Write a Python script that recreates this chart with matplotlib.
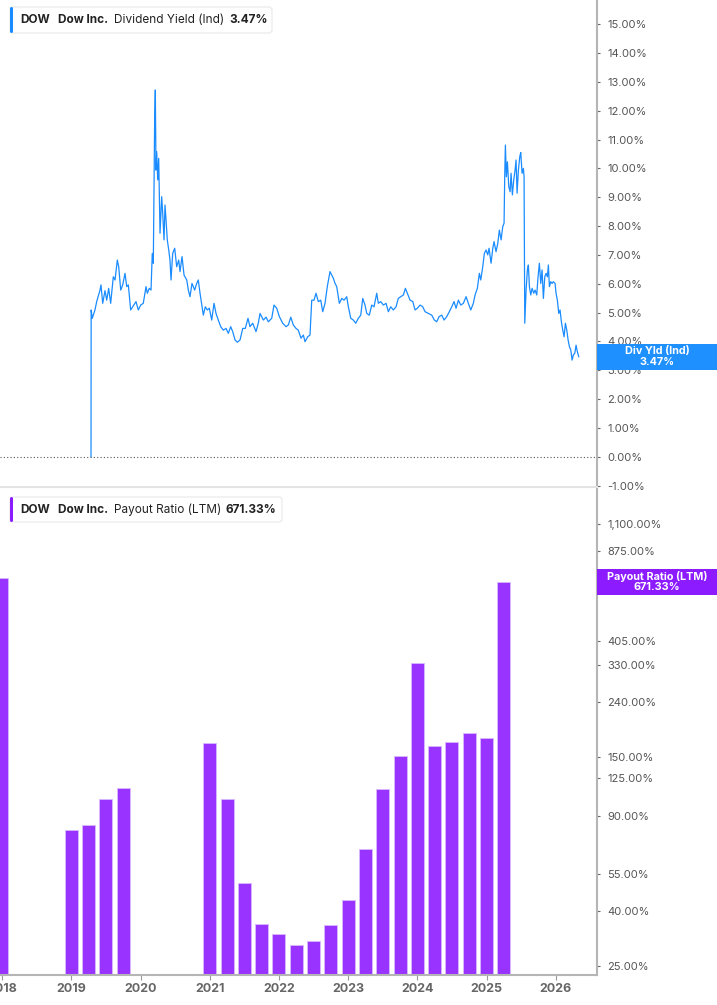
import matplotlib
matplotlib.use("Agg")
import matplotlib.pyplot as plt
from matplotlib.patches import FancyBboxPatch, Rectangle
from matplotlib.lines import Line2D
from matplotlib.transforms import Affine2D
from matplotlib.ticker import FixedLocator, FixedFormatter, NullLocator

plt.rcParams['font.family'] = ['Inter', 'DejaVu Sans']

# dividend yield (Ind), %
yield_years = [
    2019.285, 2019.287, 2019.303, 2019.342, 2019.367, 2019.415, 2019.429, 2019.454,
    2019.487, 2019.512, 2019.540, 2019.569, 2019.607, 2019.632, 2019.665, 2019.685,
    2019.714, 2019.743, 2019.776, 2019.801, 2019.824, 2019.858, 2019.887, 2019.935,
    2019.968, 2020.003, 2020.040, 2020.080, 2020.098, 2020.127, 2020.152, 2020.170,
    2020.185, 2020.195, 2020.205, 2020.214, 2020.224, 2020.234, 2020.249, 2020.263,
    2020.282, 2020.306, 2020.321, 2020.340, 2020.354, 2020.369, 2020.387, 2020.408,
    2020.426, 2020.441, 2020.465, 2020.494, 2020.523, 2020.552, 2020.571, 2020.600,
    2020.629, 2020.668, 2020.691, 2020.715, 2020.744, 2020.783, 2020.812, 2020.835,
    2020.860, 2020.889, 2020.908, 2020.936, 2020.965, 2020.994, 2021.029, 2021.062,
    2021.091, 2021.124, 2021.159, 2021.197, 2021.236, 2021.269, 2021.303, 2021.332,
    2021.366, 2021.399, 2021.438, 2021.477, 2021.514, 2021.553, 2021.582, 2021.621,
    2021.669, 2021.702, 2021.727, 2021.775, 2021.814, 2021.847, 2021.896, 2021.929,
    2021.968, 2022.006, 2022.055, 2022.103, 2022.136, 2022.171, 2022.208, 2022.247,
    2022.280, 2022.319, 2022.353, 2022.377, 2022.416, 2022.449, 2022.474, 2022.507,
    2022.536, 2022.569, 2022.604, 2022.633, 2022.666, 2022.699, 2022.738, 2022.763,
    2022.786, 2022.811, 2022.835, 2022.873, 2022.908, 2022.941, 2022.980, 2023.003,
    2023.038, 2023.075, 2023.110, 2023.147, 2023.182, 2023.211, 2023.244, 2023.269,
    2023.306, 2023.341, 2023.374, 2023.413, 2023.436, 2023.471, 2023.509, 2023.548,
    2023.581, 2023.616, 2023.653, 2023.692, 2023.725, 2023.760, 2023.798, 2023.827,
    2023.855, 2023.895, 2023.934, 2023.967, 2024.000, 2024.039, 2024.078, 2024.111,
    2024.159, 2024.208, 2024.246, 2024.280, 2024.314, 2024.353, 2024.386, 2024.425,
    2024.462, 2024.497, 2024.530, 2024.559, 2024.593, 2024.627, 2024.665, 2024.704,
    2024.737, 2024.772, 2024.809, 2024.834, 2024.867, 2024.896, 2024.916, 2024.945,
    2024.968, 2024.993, 2025.017, 2025.036, 2025.065, 2025.090, 2025.108, 2025.137,
    2025.162, 2025.185, 2025.210, 2025.234, 2025.253, 2025.263, 2025.272, 2025.286,
    2025.301, 2025.321, 2025.340, 2025.354, 2025.373, 2025.393, 2025.412, 2025.426,
    2025.441, 2025.460, 2025.480, 2025.494, 2025.513, 2025.532, 2025.542, 2025.552,
    2025.571, 2025.590, 2025.604, 2025.619, 2025.639, 2025.658, 2025.682, 2025.701,
    2025.725, 2025.744, 2025.763, 2025.783, 2025.802, 2025.821, 2025.841, 2025.860,
    2025.879, 2025.893, 2025.908, 2025.928, 2025.947, 2025.965, 2025.990, 2026.004,
    2026.023, 2026.043, 2026.062, 2026.081, 2026.101, 2026.120, 2026.139, 2026.159,
    2026.178, 2026.197, 2026.217, 2026.236, 2026.254, 2026.275, 2026.293, 2026.312,
    2026.332,
]
yield_values = [
    0.00, 5.09, 4.80, 5.09, 5.38, 5.78, 5.96, 5.32,
    5.76, 5.43, 5.84, 5.32, 6.24, 6.13, 6.82, 6.59,
    5.78, 5.96, 6.36, 5.90, 5.96, 5.09, 5.20, 5.38,
    5.09, 5.26, 5.32, 5.90, 5.67, 5.84, 5.78, 7.05,
    6.71, 9.14, 11.79, 12.72, 9.94, 10.58, 9.60, 10.35,
    7.75, 9.02, 8.44, 7.52, 8.73, 8.21, 7.52, 7.17,
    6.82, 6.13, 7.05, 7.23, 6.59, 6.82, 6.42, 6.94,
    6.30, 6.13, 5.78, 5.55, 6.01, 5.78, 6.01, 6.13,
    5.67, 5.20, 4.91, 5.20, 5.09, 5.15, 4.74, 5.32,
    4.97, 4.74, 4.51, 4.39, 4.45, 4.28, 4.51, 4.34,
    4.05, 3.97, 4.05, 4.45, 4.45, 4.80, 4.51, 4.63,
    4.34, 4.63, 4.97, 4.74, 4.84, 4.68, 4.80, 5.26,
    5.15, 4.86, 4.63, 4.51, 4.57, 4.84, 4.57, 4.45,
    4.39, 4.11, 4.22, 3.99, 4.16, 4.22, 5.43, 5.43,
    5.67, 5.38, 5.43, 5.03, 5.32, 5.90, 6.42, 6.30,
    6.19, 6.01, 5.90, 5.32, 5.49, 5.43, 5.55, 5.20,
    4.80, 4.74, 4.63, 4.80, 4.91, 5.49, 5.26, 4.97,
    4.91, 5.26, 5.20, 5.67, 5.32, 5.38, 5.26, 5.32,
    5.03, 5.20, 5.09, 5.20, 5.49, 5.55, 5.61, 5.84,
    5.67, 5.43, 5.38, 5.09, 5.15, 5.26, 5.20, 5.03,
    4.97, 4.91, 4.74, 4.68, 4.86, 4.91, 4.74, 4.86,
    5.03, 5.20, 5.38, 5.15, 5.43, 5.26, 5.32, 5.55,
    5.32, 5.09, 5.32, 5.61, 5.84, 6.36, 6.13, 6.59,
    7.05, 7.17, 7.00, 7.23, 6.71, 7.23, 7.46, 7.11,
    7.40, 7.86, 7.52, 7.98, 8.10, 9.83, 10.81, 9.71,
    10.23, 9.37, 9.19, 9.83, 9.08, 9.60, 9.94, 10.29,
    9.14, 9.94, 10.41, 10.55, 9.83, 10.00, 9.71, 4.63,
    5.78, 6.48, 6.65, 5.90, 5.61, 5.84, 5.67, 5.78,
    5.61, 6.24, 6.71, 6.01, 6.48, 5.49, 6.24, 6.36,
    6.24, 6.65, 5.90, 6.07, 6.01, 6.07, 6.01, 5.67,
    5.43, 4.97, 5.09, 4.68, 4.39, 4.16, 4.63, 4.39,
    4.05, 3.82, 3.70, 3.35, 3.53, 3.59, 3.87, 3.64,
    3.47,
]

# payout ratio (LTM), %, one bar per quarter end
payout_quarters = [2017.99, 2019.00, 2019.25, 2019.50, 2019.75,
                   2021.00, 2021.25, 2021.50, 2021.75, 2022.00, 2022.25, 2022.50, 2022.75,
                   2023.00, 2023.25, 2023.50, 2023.75, 2024.00, 2024.25, 2024.50, 2024.75,
                   2025.00, 2025.25]
payout_values = [694.0, 80.0, 83.2, 104.3, 114.3,
                 168.4, 104.5, 50.6, 35.6, 32.7, 29.9, 30.8, 35.4,
                 43.8, 67.9, 113.3, 150.7, 333.5, 164.2, 170.3, 183.9,
                 175.4, 671.33]

year_ticks = [2018, 2019, 2020, 2021, 2022, 2023, 2024, 2025, 2026]
yield_ticks = list(range(-1, 16))
payout_ticks = [25, 40, 55, 90, 125, 150, 240, 330, 405, 640, 875, 1100]

BLUE = '#1a8cff'
BLUE_BOX = '#1e90ff'
PURPLE = '#9933ff'
PURPLE_BOX = '#8c1cff'
SPINE = '#b5b5b5'
TICKTXT = '#555555'

W, H = 717, 1005
fig = plt.figure(figsize=(W / 100, H / 100), dpi=100)
pix = Affine2D().scale(1, -1).translate(0, H)   # pixel coords, origin top-left


def fx(px):
    return px / W


def fy(py):
    return 1 - py / H


AX_RIGHT = 597.3
ax1 = fig.add_axes([0, fy(487), fx(AX_RIGHT), 487 / H])
ax2 = fig.add_axes([0, fy(975), fx(AX_RIGHT), (975 - 488) / H])

for ax in (ax1, ax2):
    ax.set_xlim(2017.97, 2026.60)
    for s in ('left', 'top'):
        ax.spines[s].set_visible(False)
    ax.spines['right'].set_color(SPINE)
    ax.spines['right'].set_linewidth(1.5)
    ax.yaxis.tick_right()
    ax.tick_params(axis='y', direction='out', length=2.2, width=0.8, color='#666666',
                   pad=5, labelsize=8, labelcolor=TICKTXT)

# --- top: dividend yield
ax1.spines['bottom'].set_visible(False)
ax1.plot(yield_years, yield_values, color=BLUE, lw=0.9)
ax1.axhline(0, color='#555555', lw=0.8, ls=(0, (1, 2)))
ax1.set_ylim(-1.05, 15.84)
ax1.yaxis.set_major_locator(FixedLocator(yield_ticks))
ax1.yaxis.set_major_formatter(FixedFormatter([f"{t:.2f}%" for t in yield_ticks]))
ax1.set_xticks([])

# --- bottom: payout ratio
ax2.bar(payout_quarters, [v - 1 for v in payout_values], bottom=1, width=0.188,
        color=PURPLE, edgecolor='#d9b8ff', linewidth=0.6)
ax2.set_yscale('log')
ax2.set_ylim(23.08, 1497)
ax2.yaxis.set_major_locator(FixedLocator(payout_ticks))
ax2.yaxis.set_major_formatter(FixedFormatter([f"{t:,.2f}%" for t in payout_ticks]))
ax2.yaxis.set_minor_locator(NullLocator())
ax2.spines['bottom'].set_color(SPINE)
ax2.spines['bottom'].set_linewidth(1.5)
ax2.set_xticks(year_ticks)
ax2.set_xticklabels([str(y) for y in year_ticks])
ax2.tick_params(axis='x', direction='out', length=3.6, width=0.8, color='#999999',
                pad=2, labelsize=9, labelcolor='#666666')
for lab in ax2.get_xticklabels():
    lab.set_fontweight('bold')

# separator between the panes
fig.add_artist(Line2D([0, AX_RIGHT], [487, 487], transform=pix, color='#e3e3e3', lw=1.5))


def legend_box(y0, y1, x1, color, parts):
    fig.add_artist(FancyBboxPatch((10, y0), x1 - 10, y1 - y0, transform=pix,
                                  boxstyle='round,pad=0,rounding_size=3',
                                  facecolor='white', edgecolor='#e8e8e8', lw=0.8))
    fig.add_artist(FancyBboxPatch((10, y0), 3, y1 - y0, transform=pix,
                                  boxstyle='round,pad=0,rounding_size=1.5',
                                  facecolor=color, edgecolor='none'))
    yc = (y0 + y1) / 2
    for x, txt, weight in parts:
        fig.text(fx(x), fy(yc), txt, fontsize=8.5, fontweight=weight,
                 color='#222222', va='center', ha='left')


legend_box(7, 33, 272, BLUE, [
    (20.7, 'DOW', 'bold'), (58.3, 'Dow Inc.', 'bold'),
    (114.3, 'Dividend Yield (Ind)', 'normal'), (229, f"{yield_values[-1]:.2f}%", 'bold')])
legend_box(497, 522, 282, PURPLE_BOX, [
    (20.7, 'DOW', 'bold'), (58.3, 'Dow Inc.', 'bold'),
    (114.3, 'Payout Ratio (LTM)', 'normal'), (225, f"{payout_values[-1]:.2f}%", 'bold')])

# last value flags on the right axis
fig.canvas.draw()


def value_flag(ax, value, color, title):
    yd = ax.transData.transform((0, value))[1]
    ypx = H - yd
    fig.add_artist(Rectangle((AX_RIGHT, ypx - 13), W - AX_RIGHT, 26, transform=pix,
                             facecolor=color, edgecolor='none', zorder=10))
    fig.text(fx(657), fy(ypx - 5.5), title, fontsize=7.8, fontweight='bold',
             color='white', ha='center', va='center', zorder=11)
    fig.text(fx(657), fy(ypx + 5.5), f"{value:.2f}%", fontsize=7.8, fontweight='bold',
             color='white', ha='center', va='center', zorder=11)


value_flag(ax1, yield_values[-1], BLUE_BOX, 'Div Yld (Ind)')
value_flag(ax2, payout_values[-1], PURPLE_BOX, 'Payout Ratio (LTM)')

fig.savefig('out.png', dpi=100)
